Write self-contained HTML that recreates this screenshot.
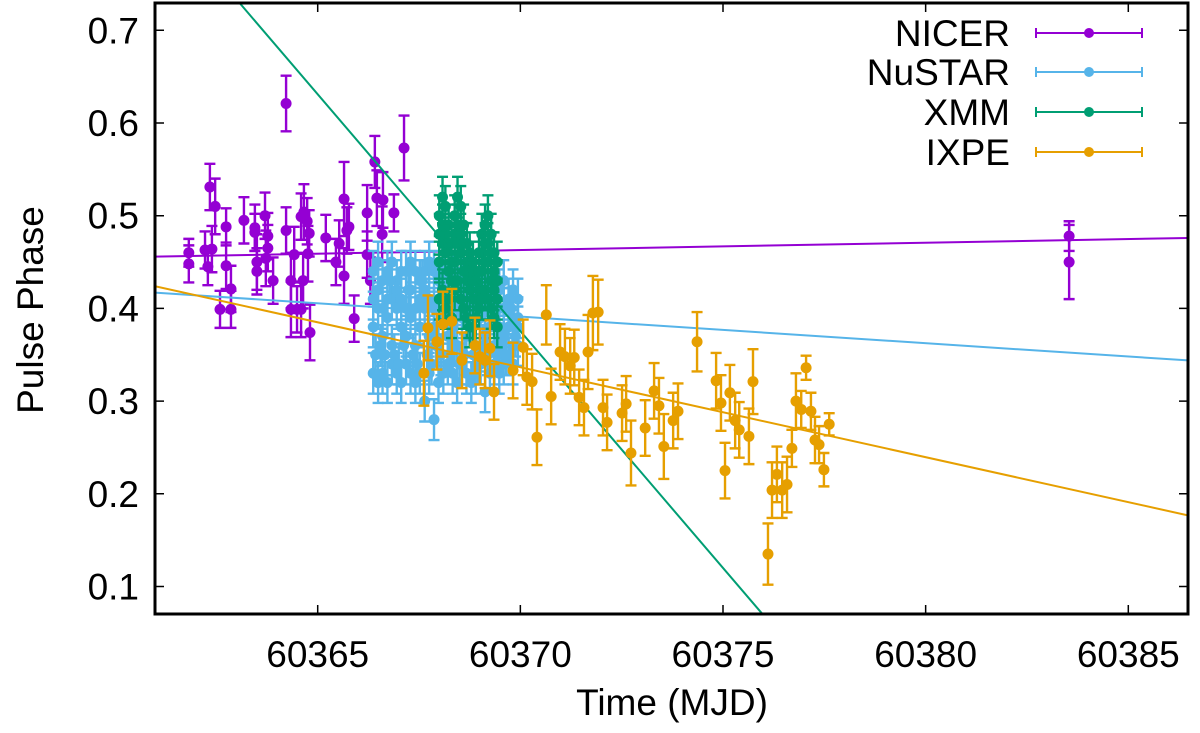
<!DOCTYPE html>
<html><head><meta charset="utf-8"><style>
html,body{margin:0;padding:0;background:#fff;overflow:hidden;width:1200px;height:733px;}
svg{display:block;font-family:"Liberation Sans",Arial,sans-serif;}
</style></head><body>
<svg id="chart" width="1200" height="733" viewBox="0 0 1200 733">
<defs><clipPath id="plotclip"><rect x="155" y="3" width="1033" height="611"/></clipPath></defs>
<g id="marks" clip-path="url(#plotclip)"></g>
<g id="axes"></g>
<g id="legend"></g>
</svg>
<script>
const xTicks = [60365, 60370, 60375, 60380, 60385];
const yTicks = [0.1, 0.2, 0.3, 0.4, 0.5, 0.6, 0.7];
const seriesNames = ["NICER", "NuSTAR", "XMM", "IXPE"];
const seriesColors = ["#9400d3", "#56b4e9", "#009e73", "#e69f00"];

const nicerMjd = [60361.82,60361.82,60362.22,60362.29,60362.34,60362.39,60362.47,60362.59,60362.74,60362.74,60362.86,60362.86,60363.18,60363.45,60363.45,60363.50,60363.50,60363.70,60363.77,60363.77,60363.72,60363.90,60364.22,60364.22,60364.34,60364.42,60364.34,60364.49,60364.59,60364.64,60364.59,60364.66,60364.74,60364.79,60364.76,60364.81,60365.20,60365.45,60365.53,60365.65,60365.65,60365.72,60365.77,60365.90,60366.22,60366.22,60366.41,60366.46,60366.61,60366.59,60366.88,60367.13,60366.30,60383.54,60383.54];
const nicerPhase = [0.460,0.448,0.463,0.445,0.531,0.464,0.510,0.399,0.488,0.446,0.421,0.399,0.495,0.487,0.482,0.450,0.440,0.500,0.478,0.465,0.454,0.430,0.621,0.484,0.430,0.458,0.399,0.399,0.399,0.430,0.499,0.504,0.494,0.481,0.459,0.374,0.476,0.450,0.470,0.518,0.435,0.484,0.488,0.389,0.503,0.458,0.558,0.519,0.517,0.480,0.503,0.573,0.430,0.478,0.450];
const nicerErr = [0.015,0.02,0.02,0.02,0.025,0.025,0.03,0.02,0.02,0.025,0.025,0.02,0.025,0.025,0.02,0.03,0.025,0.025,0.025,0.025,0.03,0.025,0.03,0.025,0.03,0.03,0.03,0.025,0.03,0.03,0.025,0.03,0.025,0.025,0.03,0.03,0.025,0.025,0.025,0.04,0.03,0.025,0.025,0.025,0.03,0.025,0.028,0.03,0.03,0.03,0.02,0.035,0.025,0.016,0.04];

const nustarMjd = [60366.37,60366.37,60366.37,60366.37,60366.49,60366.49,60366.49,60366.49,60366.60,60366.60,60366.60,60366.60,60366.72,60366.72,60366.72,60366.72,60366.83,60366.83,60366.83,60366.83,60366.95,60366.95,60366.95,60366.95,60367.06,60367.06,60367.06,60367.06,60367.18,60367.18,60367.18,60367.18,60367.29,60367.29,60367.29,60367.29,60367.41,60367.41,60367.41,60367.41,60367.52,60367.52,60367.52,60367.52,60367.64,60367.64,60367.64,60367.64,60367.75,60367.75,60367.75,60367.75,60367.87,60367.87,60367.87,60367.87,60367.98,60367.98,60367.98,60367.98,60368.10,60368.10,60368.10,60368.10,60368.21,60368.21,60368.21,60368.21,60368.33,60368.33,60368.33,60368.33,60368.44,60368.44,60368.44,60368.44,60368.56,60368.56,60368.56,60368.56,60368.67,60368.67,60368.67,60368.67,60368.79,60368.79,60368.79,60368.79,60368.90,60368.90,60368.90,60368.90,60369.02,60369.02,60369.02,60369.02,60369.13,60369.13,60369.13,60369.13,60369.25,60369.25,60369.25,60369.25,60369.36,60369.36,60369.36,60369.36,60369.48,60369.48,60369.48,60369.48,60369.59,60369.59,60369.59,60369.59,60369.71,60369.71,60369.71,60369.71,60369.82,60369.82,60369.82,60369.82,60369.94,60369.94,60369.94,60369.94,60366.43,60366.55,60366.66,60366.78,60366.89,60367.00,60367.12,60367.24,60367.35,60367.46,60367.58,60367.70,60367.81,60367.92,60368.04,60368.16,60368.27,60368.38,60368.50,60368.62,60368.73,60368.84,60368.96,60369.08,60369.19,60369.30,60369.42,60369.54,60369.65,60369.77,60369.88];
const nustarPhase = [0.44,0.41,0.38,0.33, 0.45,0.42,0.40,0.32, 0.43,0.40,0.37,0.33, 0.44,0.41,0.39,0.32, 0.45,0.41,0.36,0.34, 0.43,0.42,0.40,0.33, 0.44,0.41,0.38,0.32, 0.44,0.40,0.37,0.34, 0.45,0.42,0.39,0.33, 0.44,0.40,0.36,0.32, 0.43,0.41,0.38,0.33, 0.44,0.42,0.40,0.30, 0.45,0.41,0.37,0.33, 0.44,0.40,0.38,0.28, 0.43,0.41,0.36,0.32, 0.44,0.42,0.39,0.33, 0.43,0.40,0.37,0.34, 0.44,0.41,0.38,0.33, 0.42,0.40,0.36,0.32, 0.44,0.41,0.39,0.34, 0.43,0.40,0.37,0.33, 0.42,0.40,0.38,0.32, 0.43,0.40,0.36,0.33, 0.42,0.41,0.39,0.34, 0.43,0.40,0.37,0.31, 0.42,0.40,0.38,0.33, 0.43,0.40,0.36,0.34, 0.42,0.40,0.38,0.33, 0.43,0.40,0.37,0.34, 0.41,0.40,0.38,0.35, 0.42,0.39,0.36,0.34, 0.41,0.39,0.38,0.36, 0.35,0.36,0.35,0.43,0.35,0.34,0.36,0.42,0.35,0.34,0.43,0.35,0.34,0.36,0.35,0.42,0.35,0.36,0.34,0.35,0.42,0.35,0.34,0.36,0.35,0.41,0.35,0.36,0.35,0.40,0.37];
const nustarErr = [0.022];

const xmmMjd = [60368.00,60368.00,60368.00,60368.00,60368.08,60368.08,60368.08,60368.08,60368.15,60368.15,60368.15,60368.15,60368.23,60368.23,60368.23,60368.23,60368.30,60368.30,60368.30,60368.30,60368.38,60368.38,60368.38,60368.38,60368.45,60368.45,60368.45,60368.45,60368.53,60368.53,60368.53,60368.53,60368.60,60368.60,60368.60,60368.60,60368.68,60368.68,60368.68,60368.68,60368.75,60368.75,60368.75,60368.75,60368.83,60368.83,60368.83,60368.83,60368.90,60368.90,60368.90,60368.90,60368.98,60368.98,60368.98,60368.98,60369.05,60369.05,60369.05,60369.05,60369.13,60369.13,60369.13,60369.13,60369.20,60369.20,60369.20,60369.20,60369.28,60369.28,60369.28,60369.28,60369.35,60369.35,60369.35,60369.35,60369.43,60369.43,60369.43,60369.43];
const xmmPhase = [0.50,0.48,0.45,0.41, 0.52,0.49,0.47,0.42, 0.51,0.48,0.46,0.40, 0.49,0.47,0.44,0.41, 0.47,0.45,0.43,0.39, 0.50,0.48,0.45,0.42, 0.52,0.49,0.47,0.43, 0.51,0.48,0.46,0.41, 0.49,0.47,0.44,0.40, 0.47,0.45,0.43,0.39, 0.46,0.44,0.42,0.38, 0.45,0.43,0.41,0.38, 0.44,0.43,0.41,0.39, 0.46,0.44,0.42,0.40, 0.48,0.46,0.44,0.41, 0.49,0.47,0.45,0.42, 0.50,0.47,0.45,0.41, 0.48,0.46,0.43,0.40, 0.46,0.44,0.42,0.39, 0.45,0.43,0.41,0.38];
const xmmErr = [0.022];

const ixpeMjd = [60367.62,60367.72,60367.94,60368.09,60368.31,60368.56,60368.88,60369.00,60369.13,60369.25,60369.35,60369.82,60370.07,60370.16,60370.29,60370.41,60370.64,60370.76,60370.98,60371.10,60371.23,60371.33,60371.45,60371.57,60371.67,60371.79,60371.92,60372.04,60372.14,60372.51,60372.61,60372.73,60373.08,60373.30,60373.42,60373.54,60373.77,60373.89,60374.36,60374.83,60374.95,60375.05,60375.17,60375.30,60375.40,60375.64,60375.74,60376.11,60376.21,60376.33,60376.46,60376.58,60376.70,60376.80,60376.93,60377.05,60377.17,60377.27,60377.37,60377.49,60377.62];
const ixpePhase = [0.330,0.379,0.364,0.383,0.386,0.344,0.360,0.348,0.344,0.357,0.310,0.333,0.358,0.326,0.321,0.261,0.393,0.305,0.353,0.348,0.338,0.347,0.304,0.293,0.353,0.395,0.396,0.293,0.277,0.287,0.297,0.244,0.271,0.311,0.295,0.251,0.279,0.289,0.364,0.322,0.298,0.225,0.309,0.279,0.269,0.262,0.321,0.135,0.204,0.221,0.204,0.210,0.249,0.300,0.291,0.336,0.289,0.258,0.253,0.226,0.275];
const ixpeErr = [0.035,0.035,0.03,0.035,0.035,0.03,0.03,0.03,0.03,0.03,0.03,0.03,0.03,0.03,0.03,0.03,0.032,0.03,0.03,0.03,0.03,0.03,0.03,0.03,0.04,0.04,0.035,0.03,0.03,0.03,0.03,0.035,0.03,0.03,0.03,0.035,0.03,0.03,0.032,0.03,0.03,0.03,0.03,0.03,0.03,0.03,0.035,0.033,0.03,0.03,0.03,0.03,0.02,0.03,0.02,0.013,0.02,0.025,0.02,0.018,0.012];

// linear fits: phase at MJD 60365 and slope per day
const fitIntercept = [0.459, 0.4055, 0.631, 0.385];
const fitSlope = [0.00079, -0.00287, -0.0511, -0.0097];

const NS = "http://www.w3.org/2000/svg";
const X0 = 155, X1 = 1188, Y0 = 3, Y1 = 614;
function xs(m){ return 317.7 + (m - 60365) * 40.53; }
function ys(p){ return 215.7 + (0.5 - p) * 927; }
function xinv(px){ return 60365 + (px - 317.7) / 40.53; }
function yinv(py){ return 0.5 - (py - 215.7) / 927; }
function mk(tag, attrs, parent){
  const e = document.createElementNS(NS, tag);
  for (const k in attrs) e.setAttribute(k, attrs[k]);
  parent.appendChild(e); return e;
}
const marks = document.getElementById('marks');
const axes = document.getElementById('axes');
const legend = document.getElementById('legend');

function drawSeries(idx, mjd, ph, err){
  const g = mk('g', {}, marks);
  
  
  const c = seriesColors[idx];
  for (let i = 0; i < mjd.length; i++){
    const e = err.length === 1 ? err[0] : err[i];
    const x = xs(mjd[i]), yt = ys(ph[i] + e), yb = ys(ph[i] - e);
    const pt = mk('g', {}, g);
    
    
    mk('path', {d:`M${x},${yt}V${yb}M${x-5.5},${yt}H${x+5.5}M${x-5.5},${yb}H${x+5.5}`, stroke:c, 'stroke-width':2.4, fill:'none'}, pt);
    mk('circle', {cx:x, cy:ys(ph[i]), r:5.5, fill:c}, pt);
  }
}
function drawFit(idx){
  const a = fitIntercept[idx], b = fitSlope[idx];
  let m0 = xinv(X0), m1 = xinv(X1);
  const pTop = yinv(Y0), pBot = yinv(Y1);
  if (b !== 0){
    const mTop = 60365 + (pTop - a) / b, mBot = 60365 + (pBot - a) / b;
    const lo = Math.min(mTop, mBot), hi = Math.max(mTop, mBot);
    m0 = Math.max(m0, lo); m1 = Math.min(m1, hi);
  }
  const l = mk('line', {x1:xs(m0), y1:ys(a + b*(m0-60365)), x2:xs(m1), y2:ys(a + b*(m1-60365)), stroke:seriesColors[idx], 'stroke-width':2}, marks);
  
  
}
drawSeries(0, nicerMjd, nicerPhase, nicerErr); drawFit(0);
drawSeries(1, nustarMjd, nustarPhase, nustarErr); drawFit(1);
drawSeries(2, xmmMjd, xmmPhase, xmmErr); drawFit(2);
drawSeries(3, ixpeMjd, ixpePhase, ixpeErr); drawFit(3);

const fr = mk('rect', {x:X0, y:Y0, width:X1-X0, height:Y1-Y0, fill:'none', stroke:'#000', 'stroke-width':3}, axes);


xTicks.forEach(t => {
  const x = xs(t);
  mk('path', {d:`M${x},${Y1}V${Y1-9}M${x},${Y0}V${Y0+9}`, stroke:'#000', 'stroke-width':1.5}, axes);
  const tx = mk('text', {x:x, y:667, 'font-size':37, 'text-anchor':'middle', fill:'#000'}, axes);
  
  
  tx.textContent = t;
});
yTicks.forEach(t => {
  const y = ys(t);
  mk('path', {d:`M${X0},${y}H${X0+9}M${X1},${y}H${X1-9}`, stroke:'#000', 'stroke-width':1.5}, axes);
  const tx = mk('text', {x:139, y:y+13, 'font-size':37, 'text-anchor':'end', fill:'#000'}, axes);
  
  
  tx.textContent = t.toFixed(1);
});
const xt = mk('text', {x:672, y:715, 'font-size':37, 'text-anchor':'middle', fill:'#000'}, axes);


xt.textContent = 'Time (MJD)';
const yt = mk('text', {x:0, y:0, 'font-size':37, 'text-anchor':'middle', fill:'#000', transform:'translate(43,310) rotate(-90)'}, axes);


yt.textContent = 'Pulse Phase';

const legY = [33, 72, 112, 152];
seriesNames.forEach((n, i) => {
  const g = mk('g', {}, legend);
  
  
  const y = legY[i], c = seriesColors[i];
  const t = mk('text', {x:1010, y:y+13, 'font-size':37, 'text-anchor':'end', fill:'#000'}, g);
  t.textContent = n;
  mk('path', {d:`M1036,${y}H1142M1036,${y-5}V${y+5}M1142,${y-5}V${y+5}`, stroke:c, 'stroke-width':2, fill:'none'}, g);
  mk('circle', {cx:1089, cy:y, r:5, fill:c}, g);
});
</script>
</body></html>
